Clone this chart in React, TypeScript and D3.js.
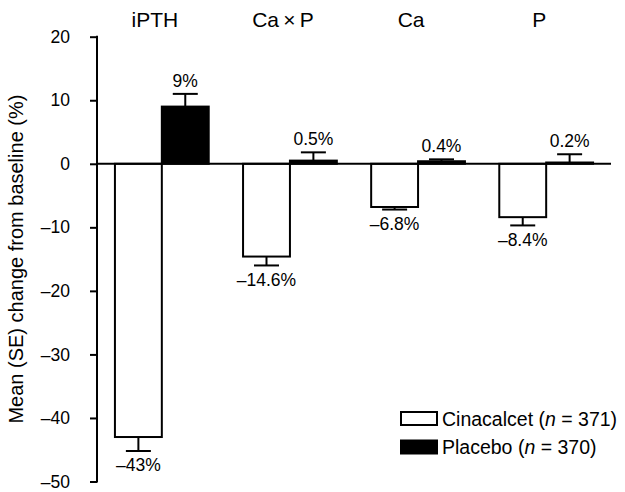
import React, { useEffect, useRef } from 'react';
import * as d3 from 'd3';

const categories = ['iPTH', 'Ca\u2009\u00d7\u2009P', 'Ca', 'P'];
const cinacalcet = [-43, -14.6, -6.8, -8.4];
const cinacalcetSE = [2.2, 1.4, 0.4, 1.3];
const placebo = [9, 0.5, 0.4, 0.2];
const placeboSE = [2, 1.3, 0.3, 1.3];
const cinacalcetLabels = ['\u201343%', '\u201314.6%', '\u20136.8%', '\u20138.4%'];
const placeboLabels = ['9%', '0.5%', '0.4%', '0.2%'];
const yTicks = [20, 10, 0, -10, -20, -30, -40, -50];

const FONT = 'Liberation Sans, Arial, sans-serif';

const App = () => {
  const ref = useRef<SVGSVGElement>(null);

  useEffect(() => {
    const svg = d3.select(ref.current);
    svg.selectAll('*').remove();

    const y = d3.scaleLinear().domain([-50, 20]).range([481.5, 36.7]);
    const x = d3.scaleBand<string>()
      .domain(categories)
      .range([97, 611])
      .paddingInner(0.268)
      .paddingOuter(0.14);
    const bw = x.bandwidth() / 2;
    const cap = 12.5;

    // y axis
    const yAxis = svg.append('g')
      .attr('transform', 'translate(97,0)')
      .call(d3.axisLeft(y).tickValues(yTicks).tickSize(7).tickPadding(20)
        .tickFormat(d => (+d < 0 ? '\u2013' + Math.abs(+d) : String(d))));
    yAxis.select('.domain').remove();
    yAxis.selectAll('line').attr('stroke', '#000').attr('stroke-width', 2);
    yAxis.selectAll('text').attr('font-family', FONT).attr('font-size', 17.5).attr('fill', '#000');
    svg.append('line')
      .attr('x1', 97).attr('x2', 97)
      .attr('y1', y(20) - 1).attr('y2', y(-50) + 1)
      .attr('stroke', '#000').attr('stroke-width', 2);

    svg.append('text')
      .attr('transform', `translate(23,${(y(20) + y(-50)) / 2}) rotate(-90)`)
      .attr('text-anchor', 'middle')
      .attr('font-family', FONT).attr('font-size', 20)
      .text('Mean (SE) change from baseline (%)');

    const groups = svg.selectAll('g.grp').data(categories).enter().append('g')
      .attr('class', 'grp');

    groups.each(function (c, i) {
      const g = d3.select(this);
      const x0 = x(c)!;
      const series = [
        { v: cinacalcet[i], se: -cinacalcetSE[i], cx: x0 + bw / 2 },
        { v: placebo[i], se: placeboSE[i], cx: x0 + bw * 1.5 },
      ];
      // error bars (one-sided, away from zero)
      series.forEach(s => {
        g.append('line')
          .attr('x1', s.cx).attr('x2', s.cx)
          .attr('y1', y(s.v)).attr('y2', y(s.v + s.se))
          .attr('stroke', '#000').attr('stroke-width', 2);
        g.append('line')
          .attr('x1', s.cx - cap).attr('x2', s.cx + cap)
          .attr('y1', y(s.v + s.se)).attr('y2', y(s.v + s.se))
          .attr('stroke', '#000').attr('stroke-width', 2);
      });

      g.append('rect')
        .attr('x', x0).attr('width', bw)
        .attr('y', y(0)).attr('height', y(cinacalcet[i]) - y(0))
        .attr('fill', '#fff').attr('stroke', '#000').attr('stroke-width', 2);
      g.append('rect')
        .attr('x', x0 + bw).attr('width', bw)
        .attr('y', y(placebo[i])).attr('height', y(0) - y(placebo[i]))
        .attr('fill', '#000').attr('stroke', '#000').attr('stroke-width', 2);

      g.append('text')
        .attr('x', x0 + bw / 2)
        .attr('y', y(cinacalcet[i] - cinacalcetSE[i]) + 20.5)
        .attr('text-anchor', 'middle')
        .attr('font-family', FONT).attr('font-size', 17.5)
        .text(cinacalcetLabels[i]);
      g.append('text')
        .attr('x', x0 + bw * 1.5)
        .attr('y', y(placebo[i] + placeboSE[i]) - 7)
        .attr('text-anchor', 'middle')
        .attr('font-family', FONT).attr('font-size', 17.5)
        .text(placeboLabels[i]);

      g.append('text')
        .attr('x', x0 + bw - 7)
        .attr('y', 26.5)
        .attr('text-anchor', 'middle')
        .attr('font-family', FONT).attr('font-size', 21)
        .text(c);
    });

    // zero line
    svg.append('line')
      .attr('x1', 97).attr('x2', 611)
      .attr('y1', y(0)).attr('y2', y(0))
      .attr('stroke', '#000').attr('stroke-width', 2);

    // legend
    const legend = [
      { fill: '#fff', name: 'Cinacalcet', n: '371' },
      { fill: '#000', name: 'Placebo', n: '370' },
    ];
    const lg = svg.append('g').attr('transform', 'translate(401,412)');
    legend.forEach((d, i) => {
      lg.append('rect')
        .attr('x', 0).attr('y', i * 28.5)
        .attr('width', 36).attr('height', 13)
        .attr('fill', d.fill).attr('stroke', '#000').attr('stroke-width', 2);
      const t = lg.append('text')
        .attr('x', 41).attr('y', i * 28.5 + 13.5)
        .attr('font-family', FONT).attr('font-size', 19.5);
      t.append('tspan').text(`${d.name} (`);
      t.append('tspan').attr('font-style', 'italic').text('n');
      t.append('tspan').text(` = ${d.n})`);
    });
  }, []);

  return (
    <svg
      ref={ref}
      width={625}
      height={492}
      style={{ position: 'absolute', left: 0, top: 0, background: '#fff' }}
    />
  );
};

export default App;
